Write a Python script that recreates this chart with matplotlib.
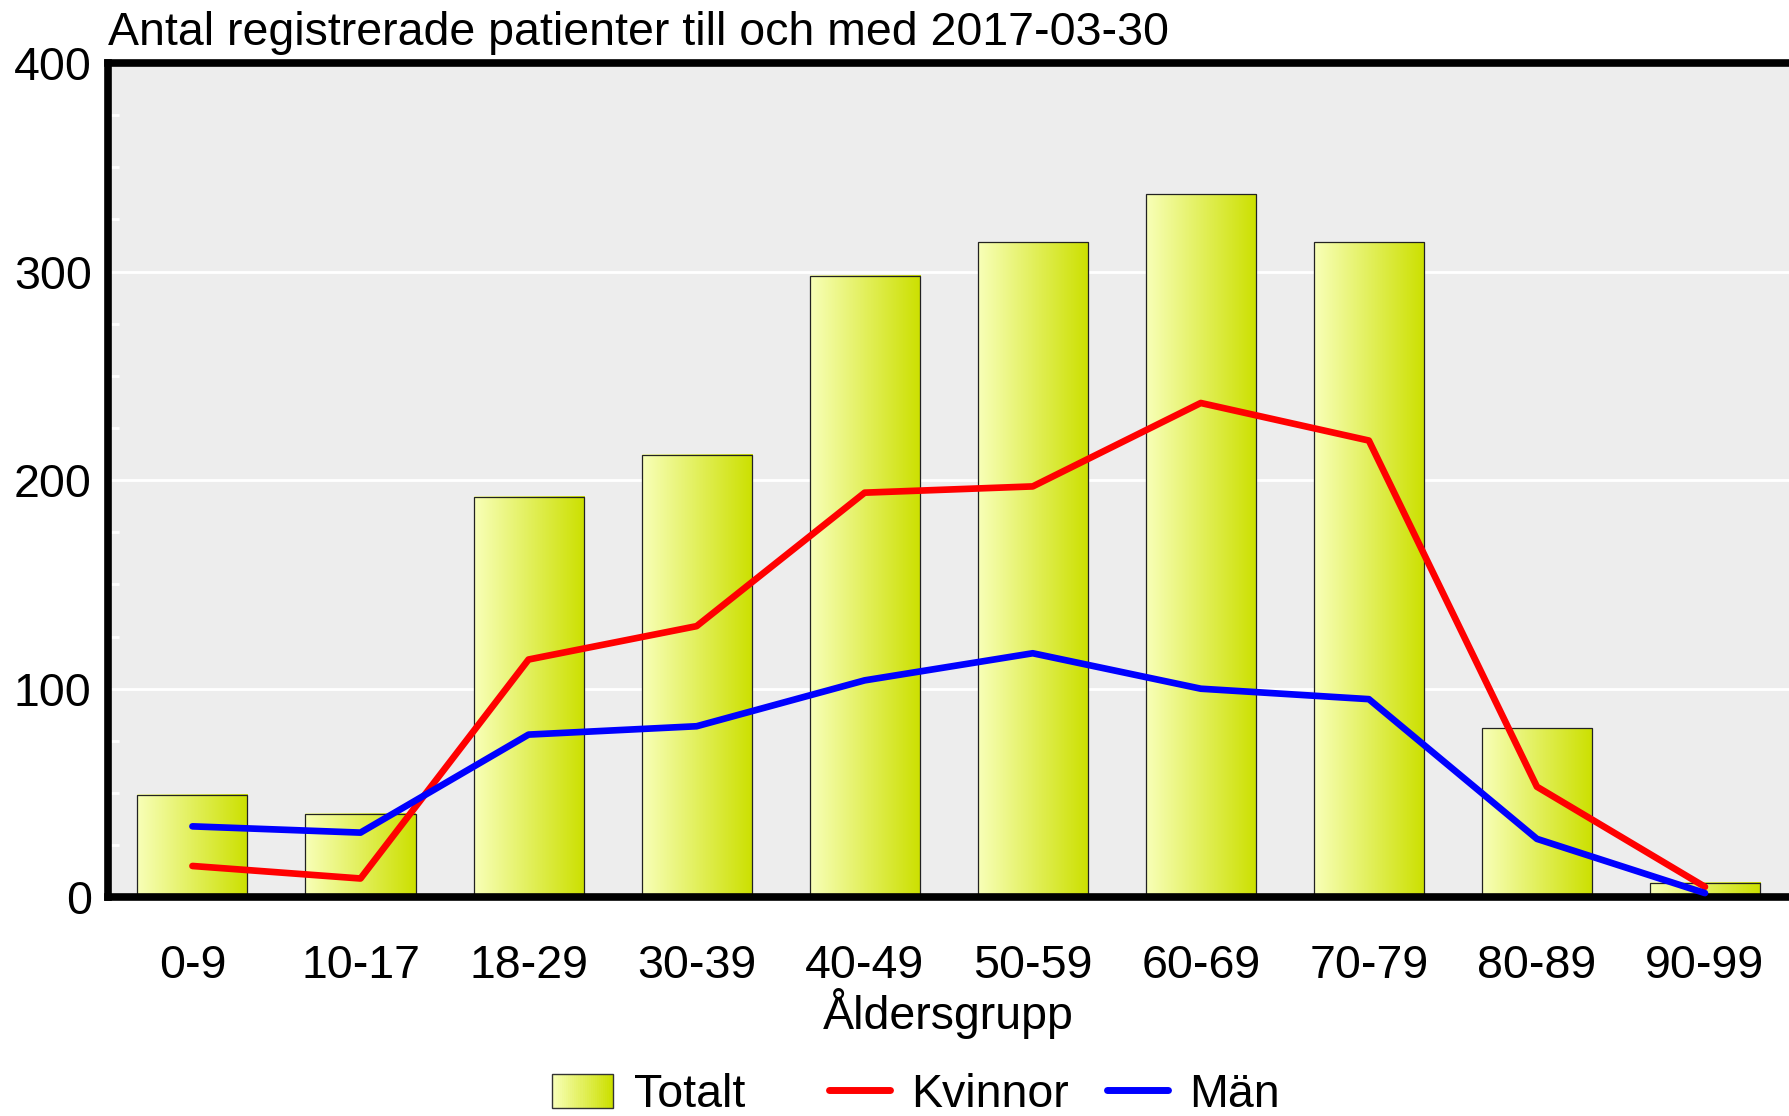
import numpy as np
import matplotlib
matplotlib.use("Agg")
import matplotlib.pyplot as plt
from matplotlib.colors import LinearSegmentedColormap
from matplotlib.patches import Rectangle
from matplotlib.legend_handler import HandlerBase
from matplotlib.lines import Line2D

plt.rcParams['font.family'] = ['Liberation Sans', 'DejaVu Sans']

# data
groups = ["0-9", "10-17", "18-29", "30-39", "40-49", "50-59", "60-69", "70-79", "80-89", "90-99"]
totalt = [49, 40, 192, 212, 298, 314, 337, 314, 81, 7]
kvinnor = [15, 9, 114, 130, 194, 197, 237, 219, 53, 5]
man = [34, 31, 78, 82, 104, 117, 100, 95, 28, 2]

title = "Antal registrerade patienter till och med 2017-03-30"

light = "#f8ffb8"
dark = "#cce000"
grad_cmap = LinearSegmentedColormap.from_list("bar", [light, dark])

fs = 33.5


class GradientHandler(HandlerBase):
    # draws the legend box as a row of thin strips to fake the gradient
    def create_artists(self, legend, orig_handle, xdescent, ydescent,
                       width, height, fontsize, trans):
        arts = []
        n = 30
        for i in range(n):
            c = grad_cmap(i / (n - 1))
            r = Rectangle((-xdescent + width * i / n, -ydescent), width / n + 0.3, height,
                          facecolor=c, edgecolor='none', transform=trans)
            arts.append(r)
        arts.append(Rectangle((-xdescent, -ydescent), width, height, facecolor='none',
                              edgecolor='#333333', lw=1.0, transform=trans))
        return arts


fig = plt.figure(figsize=(17.89, 11.16), dpi=100)
ax = fig.add_axes([0.0606, 0.196, 0.9394, 0.7475])
ax.set_facecolor("#ededed")

x = np.arange(len(groups))
bw = 0.655
grad = np.linspace(0, 1, 256).reshape(1, -1)

# bars with horizontal gradient
for xi, h in zip(x, totalt):
    ax.imshow(grad, extent=[xi - bw / 2, xi + bw / 2, 0, h], aspect='auto',
              cmap=grad_cmap, zorder=2, interpolation='bilinear')
    ax.add_patch(Rectangle((xi - bw / 2, 0), bw, h, facecolor='none',
                           edgecolor='#222222', lw=0.9, zorder=2.5))

ax.plot(x, kvinnor, color='#ff0000', lw=4.8, solid_capstyle='round',
        solid_joinstyle='round', zorder=3)
ax.plot(x, man, color='#0000ff', lw=4.8, solid_capstyle='round',
        solid_joinstyle='round', zorder=3)

ax.set_xlim(-0.5, 9.5)
ax.set_ylim(0, 400)

ax.set_yticks([0, 100, 200, 300, 400])
ax.set_yticks(np.arange(0, 401, 25), minor=True)
ax.yaxis.grid(True, which='major', color='white', lw=2)
ax.set_axisbelow(True)
ax.tick_params(axis='y', which='major', length=0, labelsize=fs, pad=12)
ax.tick_params(axis='y', which='minor', direction='in', length=8, width=2, color='white')
ax.set_xticks(x)
ax.set_xticklabels(groups)
ax.tick_params(axis='x', length=0, labelsize=fs, pad=34)
ax.set_xlabel("Åldersgrupp", fontsize=fs, labelpad=0)

for s in ['left', 'bottom', 'top']:
    ax.spines[s].set_linewidth(5.5)
    ax.spines[s].set_color('black')
ax.spines['right'].set_visible(False)

ax.set_title(title, loc='left', fontsize=fs, pad=13)

# legend entries placed one by one, the original has uneven spacing
handles = [Rectangle((0, 0), 1, 1),
           Line2D([], [], color='#ff0000', lw=5, solid_capstyle='round'),
           Line2D([], [], color='#0000ff', lw=5, solid_capstyle='round')]
labels = ["Totalt", "Kvinnor", "Män"]
leg_x = [0.3087, 0.4635, 0.619]
for hnd, lab, lx in zip(handles, labels, leg_x):
    fig.legend([hnd], [lab], loc='center left', bbox_to_anchor=(lx, 0.019),
               frameon=False, fontsize=fs, handler_map={Rectangle: GradientHandler()},
               handlelength=1.3, handleheight=0.75, handletextpad=0.45,
               borderpad=0, borderaxespad=0)

fig.savefig("out.png", dpi=100)
